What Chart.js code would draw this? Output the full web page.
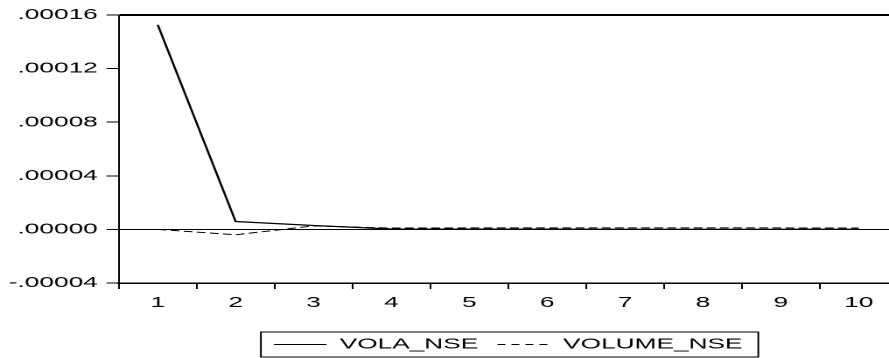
<!DOCTYPE html>
<html lang="en">
<head>
<meta charset="UTF-8">
<title>VOLA_NSE / VOLUME_NSE</title>
<script src="https://cdn.jsdelivr.net/npm/chart.js"></script>
<style>
  html, body { margin: 0; padding: 0; background: #fff; overflow: hidden; }
  /* the original picture is stretched sideways, so the chart is too */
  .wrap { width: 514px; height: 358px; transform: scaleX(1.75); transform-origin: 0 0; }
</style>
</head>
<body>
<div class="wrap"><canvas id="myChart"></canvas></div>

<script>
const periods = ['1', '2', '3', '4', '5', '6', '7', '8', '9', '10'];
const volaNse = [0.0001527, 0.0000059, 0.0000029, 0.0000003, 0.0000002, 0.0000002, 0.0000001, 0.0000001, 0.0000001, 0.0000001];
const volumeNse = [0, -0.0000040, 0.0000026, 0.0000010, 0.0000011, 0.0000011, 0.0000011, 0.0000011, 0.0000011, 0.0000010];
const yMin = -0.00004, yMax = 0.00016, yStep = 0.00004;

const font = { family: 'Liberation Sans, Arial, sans-serif', size: 15 };

function fmt(v) {
  // eviews style: .00012, -.00004
  return Number(v).toFixed(5).replace(/^(-?)0\./, '$1.');
}
function near(a, b) { return Math.abs(a - b) < 1e-10; }

// box round the legend
const legendBox = {
  id: 'legendBox',
  afterDraw(chart) {
    const hb = chart.legend.legendHitBoxes;
    if (!hb || !hb.length) return;
    const last = hb[hb.length - 1];
    const cy = hb[0].top + hb[0].height / 2;
    const ctx = chart.ctx;
    ctx.save();
    ctx.strokeStyle = '#000';
    ctx.lineWidth = 1;
    ctx.strokeRect(hb[0].left - 7.5, cy - 12.5, last.left + last.width + 9 - hb[0].left + 7.5, 25);
    ctx.restore();
  }
};

new Chart(document.getElementById('myChart'), {
  type: 'line',
  data: {
    labels: periods,
    datasets: [{
      label: 'VOLA_NSE',
      data: volaNse,
      borderColor: '#000',
      backgroundColor: '#000',
      borderWidth: 1.3,
      pointRadius: 0,
      tension: 0
    }, {
      label: 'VOLUME_NSE',
      data: volumeNse,
      borderColor: '#000',
      backgroundColor: '#000',
      borderWidth: 1,
      borderDash: [5, 2.5],
      pointRadius: 0,
      tension: 0
    }]
  },
  options: {
    responsive: true,
    maintainAspectRatio: false,
    animation: false,
    devicePixelRatio: 2,
    layout: { padding: { left: 0, right: 1, top: 15, bottom: 1 } },
    plugins: {
      tooltip: { enabled: false },
      legend: {
        position: 'bottom',
        fullSize: false,
        maxHeight: 31,
        labels: {
          color: '#000',
          font: font,
          boxWidth: 30,
          pointStyleWidth: 30,
          padding: 11,
          usePointStyle: true,
          generateLabels(chart) {
            return chart.data.datasets.map((ds, i) => ({
              text: ds.label,
              fillStyle: '#000',
              strokeStyle: '#000',
              lineWidth: 1,
              lineDash: i === 1 ? [4.5, 3.5] : [],
              pointStyle: 'line',
              fontColor: '#000',
              datasetIndex: i
            }));
          }
        }
      }
    },
    scales: {
      x: {
        offset: true,
        grid: { offset: true, drawOnChartArea: false, tickLength: 6, tickColor: '#000', tickWidth: 1 },
        border: { display: true, color: '#000', width: 1.5 },
        ticks: { color: '#000', font: font, padding: 5, maxRotation: 0 },
        afterFit(scale) { scale.height += 9; }
      },
      y: {
        min: yMin,
        max: yMax,
        grid: {
          color: c => (near(c.tick.value, 0) || near(c.tick.value, yMax)) ? '#000' : 'rgba(0,0,0,0)',
          lineWidth: c => near(c.tick.value, yMax) ? 2 : 1,
          tickColor: '#000',
          tickWidth: 1,
          tickLength: 7
        },
        border: { display: true, color: '#000', width: 1 },
        ticks: { stepSize: yStep, color: '#000', font: font, padding: 5, callback: v => fmt(v) }
      }
    }
  },
  plugins: [legendBox]
});
</script>
</body>
</html>
